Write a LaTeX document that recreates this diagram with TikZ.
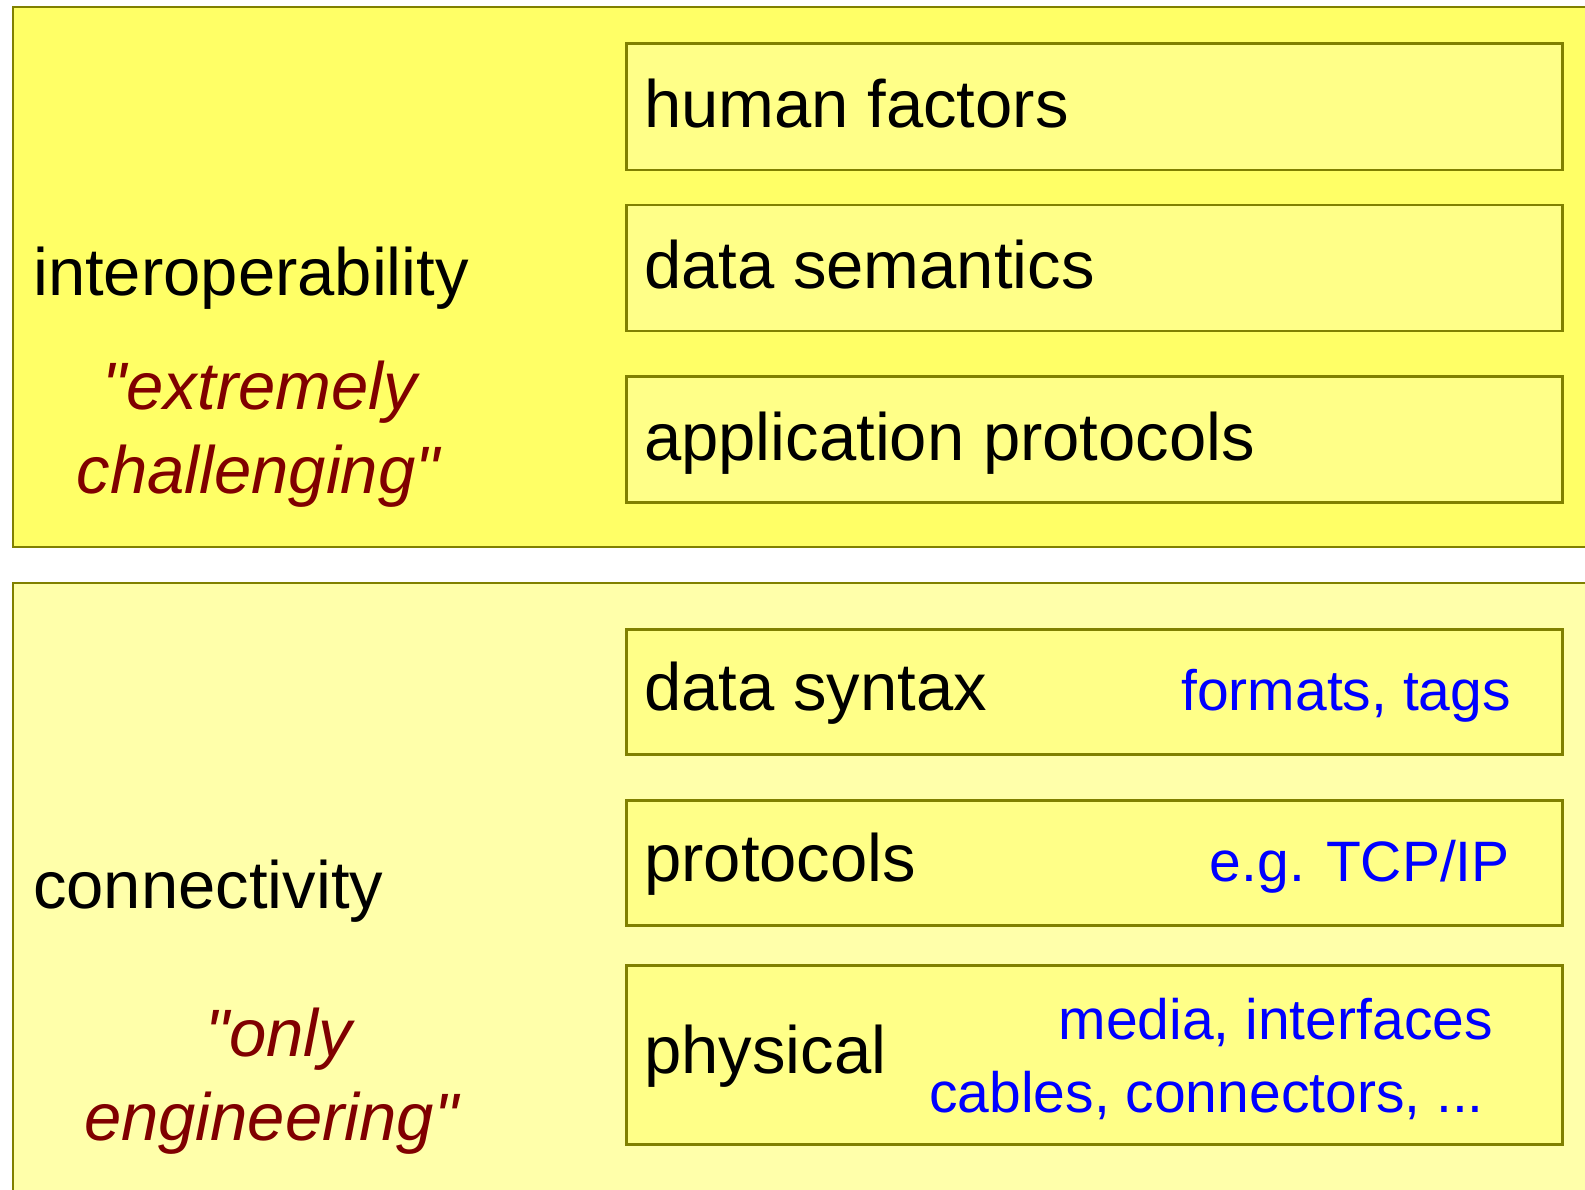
\documentclass[tikz,border=0pt]{standalone}
\usepackage{fontspec}
\setmainfont{Liberation Sans}[Ligatures=TeXOff]
\definecolor{topfill}{HTML}{FFFF66}
\definecolor{botfill}{HTML}{FFFFAA}
\definecolor{innerfill}{HTML}{FFFF88}
\definecolor{edge}{HTML}{808000}
\definecolor{darkred}{HTML}{800000}
\definecolor{bluetxt}{HTML}{0000FF}
\tikzset{
  outerbox/.style={draw=edge, line width=2pt, anchor=north west, inner sep=0pt},
  layerbox/.style={draw=edge, fill=innerfill, line width=2.5pt, anchor=north west, inner sep=0pt, minimum width=936pt},
  bigtxt/.style={font=\fontsize{67}{80}\selectfont, inner sep=0pt, anchor=base west},
  quotetxt/.style={font=\fontsize{67}{80}\selectfont\itshape, text=darkred, inner sep=0pt, anchor=base},
  notetxt/.style={font=\fontsize{57}{68}\selectfont, text=bluetxt, inner sep=0pt, anchor=base east}
}
\begin{document}
\begin{tikzpicture}[x=1pt,y=-1pt]
\clip (0,0) rectangle (1585,1190);
\fill[white] (0,0) rectangle (1585,1190);
% outer bands
\node[outerbox, fill=topfill, minimum width=1620pt, minimum height=540pt] (top) at (12,6) {};
\node[outerbox, fill=botfill, minimum width=1620pt, minimum height=660pt] (bot) at (12,582) {};
% layer boxes
\node[layerbox, minimum height=126.5pt] (hf) at (625,42.5) {};
\node[layerbox, minimum height=126pt] (ds) at (625,204) {};
\node[layerbox, minimum height=126pt] (ap) at (625,375) {};
\node[layerbox, minimum height=125pt] (dsx) at (625,628) {};
\node[layerbox, minimum height=125pt] (pr) at (625,799) {};
\node[layerbox, minimum height=179pt] (ph) at (625,964) {};
% layer labels
\node[bigtxt] (hft) at (644,127.5) {human factors};
\node[bigtxt] (dst) at (644,289) {data semantics};
\node[bigtxt] (apt) at (644,460) {application protocols};
\node[bigtxt] (dsxt) at (644,710) {data syntax};
\node[bigtxt] (prt) at (644,881) {protocols};
\node[bigtxt] (pht) at (644,1073) {physical};
% notes
\node[notetxt] (n1) at (1511,710) {formats, tags};
\node[notetxt] (n2) at (1510,881) {e.g. TCP/IP};
\node[notetxt] (n3) at (1493,1039) {media, interfaces};
\node[notetxt] (n4) at (1484,1112) {cables, connectors, ...};
% left labels
\node[bigtxt] (io) at (33,296) {interoperability};
\node[quotetxt] (q1) at (260,409) {"extremely};
\node[quotetxt] (q2) at (258,493) {challenging"};
\node[bigtxt] (co) at (33,908) {connectivity};
\node[quotetxt] (q3) at (279,1056) {"only};
\node[quotetxt] (q4) at (271,1140) {engineering"};
\end{tikzpicture}
\end{document}
